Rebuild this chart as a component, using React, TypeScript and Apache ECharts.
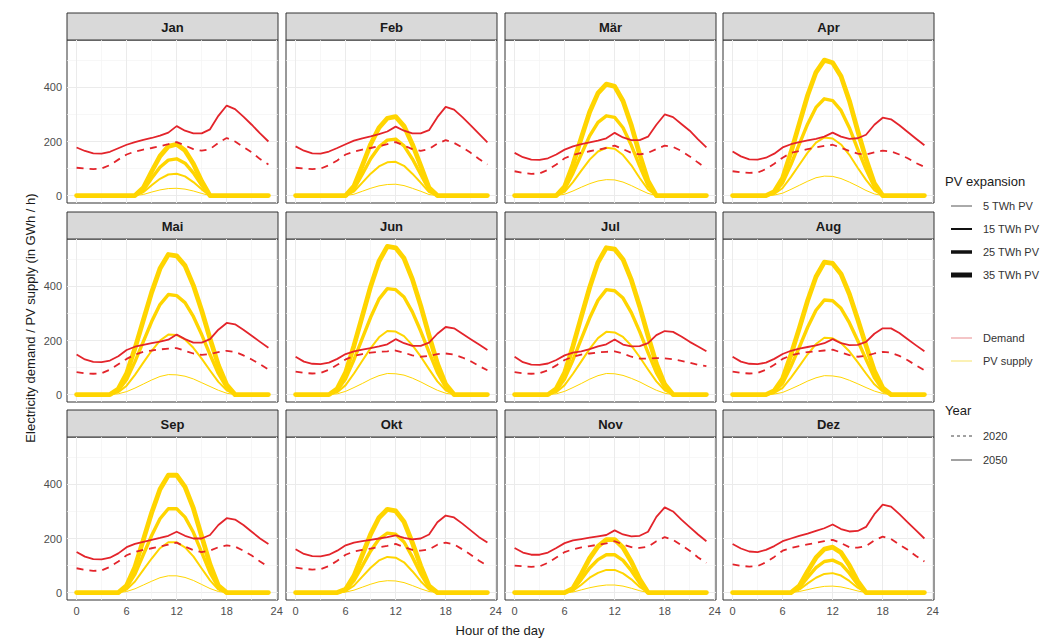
import React, { useEffect, useRef } from "react";
import * as echarts from "echarts";

// ---------------- data ----------------
const months = ["Jan", "Feb", "Mär", "Apr", "Mai", "Jun", "Jul", "Aug", "Sep", "Okt", "Nov", "Dez"];
const hours = [0, 1, 2, 3, 4, 5, 6, 7, 8, 9, 10, 11, 12, 13, 14, 15, 16, 17, 18, 19, 20, 21, 22, 23];
const xTicks = [0, 6, 12, 18, 24];
const xMinor = [3, 9, 15, 21];
const yTicks = [0, 200, 400];
const yMinor = [100, 300, 500];
const pvLevels = ["5 TWh PV", "15 TWh PV", "25 TWh PV", "35 TWh PV"];
const colourKeys = ["Demand", "PV supply"];
const yearKeys = ["2020", "2050"];

// demand 2050 (solid) / 2020 (dashed), GWh/h per hour
const janD50 = [178, 165, 156, 155, 162, 175, 188, 198, 206, 213, 222, 233, 257, 240, 230, 230, 245, 295, 333, 320, 292, 262, 230, 200];
const janD20 = [103, 100, 98, 100, 113, 133, 152, 163, 170, 176, 183, 190, 198, 185, 172, 166, 172, 195, 213, 200, 180, 160, 135, 115];
const febD50 = [182, 166, 156, 155, 163, 176, 190, 203, 212, 219, 227, 237, 255, 240, 230, 230, 242, 290, 328, 318, 290, 260, 228, 197];
const febD20 = [103, 100, 98, 100, 112, 130, 152, 163, 170, 176, 183, 190, 198, 185, 172, 165, 172, 192, 205, 195, 178, 158, 135, 115];
const marD50 = [158, 142, 133, 132, 138, 152, 170, 182, 190, 197, 203, 212, 232, 215, 205, 205, 218, 262, 300, 290, 265, 240, 208, 178];
const marD20 = [90, 84, 80, 82, 95, 115, 138, 150, 158, 164, 170, 176, 185, 172, 158, 152, 158, 172, 185, 180, 165, 145, 122, 100];
const aprD50 = [163, 145, 134, 133, 140, 155, 178, 190, 198, 204, 210, 218, 233, 218, 210, 212, 225, 262, 288, 282, 260, 235, 210, 186];
const aprD20 = [90, 86, 84, 85, 98, 118, 140, 158, 165, 172, 178, 184, 188, 177, 165, 155, 152, 160, 166, 163, 152, 138, 120, 106];
const maiD50 = [148, 130, 121, 120, 126, 142, 165, 177, 184, 190, 196, 203, 222, 205, 192, 192, 205, 240, 265, 260, 240, 218, 195, 173];
const maiD20 = [83, 79, 77, 79, 92, 112, 132, 148, 158, 163, 167, 170, 172, 162, 152, 147, 150, 157, 162, 158, 145, 130, 112, 93];
const junD50 = [140, 122, 114, 113, 118, 132, 150, 160, 166, 172, 178, 186, 205, 190, 180, 180, 192, 225, 250, 245, 225, 205, 185, 165];
const junD20 = [85, 80, 78, 80, 92, 110, 130, 143, 150, 155, 158, 160, 163, 155, 145, 140, 143, 150, 152, 148, 137, 123, 106, 90];
const julD50 = [140, 120, 111, 110, 115, 128, 145, 155, 160, 168, 178, 186, 204, 185, 178, 179, 190, 220, 235, 232, 215, 195, 178, 160];
const julD20 = [83, 79, 77, 79, 90, 108, 128, 140, 148, 152, 156, 158, 160, 152, 140, 133, 133, 135, 134, 131, 125, 118, 110, 105];
const augD50 = [140, 122, 114, 113, 118, 132, 150, 162, 170, 176, 182, 190, 205, 190, 183, 184, 195, 225, 245, 245, 228, 205, 182, 160];
const augD20 = [85, 80, 78, 80, 92, 110, 132, 145, 152, 157, 160, 163, 166, 156, 146, 140, 143, 152, 158, 155, 143, 127, 108, 90];
const sepD50 = [150, 133, 124, 123, 129, 145, 168, 180, 188, 195, 202, 210, 225, 210, 200, 200, 213, 250, 275, 270, 250, 225, 200, 180];
const sepD20 = [90, 84, 80, 82, 95, 115, 138, 150, 158, 164, 170, 177, 185, 170, 157, 150, 155, 168, 175, 170, 155, 137, 115, 95];
const oktD50 = [160, 143, 135, 134, 140, 155, 175, 185, 190, 195, 200, 205, 212, 202, 197, 200, 215, 260, 285, 278, 255, 230, 205, 185];
const oktD20 = [92, 88, 85, 87, 98, 118, 140, 152, 158, 163, 168, 173, 180, 168, 158, 155, 160, 177, 185, 178, 160, 140, 118, 100];
const novD50 = [165, 148, 140, 140, 148, 165, 183, 193, 198, 203, 208, 213, 230, 215, 208, 210, 225, 280, 315, 300, 270, 242, 215, 190];
const novD20 = [100, 97, 95, 97, 110, 130, 150, 160, 167, 172, 177, 182, 190, 178, 168, 165, 170, 190, 205, 195, 175, 155, 130, 110];
const dezD50 = [180, 163, 152, 150, 158, 172, 190, 200, 210, 218, 228, 238, 252, 235, 226, 228, 243, 290, 325, 318, 290, 260, 230, 200];
const dezD20 = [104, 99, 96, 98, 112, 132, 155, 165, 172, 178, 184, 190, 195, 183, 168, 166, 172, 193, 207, 198, 178, 158, 135, 115];

// PV supply per expansion level (5 / 15 / 25 / 35 TWh)
const jan5 = [0, 0, 0, 0, 0, 0, 0, 0, 4, 13, 21, 26, 27, 24, 17, 8, 0, 0, 0, 0, 0, 0, 0, 0];
const jan15 = [0, 0, 0, 0, 0, 0, 0, 0, 12, 38, 62, 78, 81, 71, 50, 23, 0, 0, 0, 0, 0, 0, 0, 0];
const jan25 = [0, 0, 0, 0, 0, 0, 0, 0, 20, 64, 105, 131, 136, 120, 84, 38, 0, 0, 0, 0, 0, 0, 0, 0];
const jan35 = [0, 0, 0, 0, 0, 0, 0, 0, 29, 89, 146, 182, 190, 167, 118, 53, 0, 0, 0, 0, 0, 0, 0, 0];
const feb5 = [0, 0, 0, 0, 0, 0, 0, 5, 16, 27, 36, 41, 42, 37, 27, 16, 4, 0, 0, 0, 0, 0, 0, 0];
const feb15 = [0, 0, 0, 0, 0, 0, 0, 15, 48, 81, 108, 123, 125, 110, 81, 48, 13, 0, 0, 0, 0, 0, 0, 0];
const feb25 = [0, 0, 0, 0, 0, 0, 0, 25, 79, 136, 180, 205, 209, 184, 136, 79, 21, 0, 0, 0, 0, 0, 0, 0];
const feb35 = [0, 0, 0, 0, 0, 0, 0, 35, 111, 190, 251, 286, 292, 257, 190, 111, 29, 0, 0, 0, 0, 0, 0, 0];
const mar5 = [0, 0, 0, 0, 0, 0, 5, 17, 31, 44, 54, 59, 58, 50, 37, 22, 8, 0, 0, 0, 0, 0, 0, 0];
const mar15 = [0, 0, 0, 0, 0, 0, 14, 50, 92, 133, 163, 177, 173, 150, 112, 65, 23, 0, 0, 0, 0, 0, 0, 0];
const mar25 = [0, 0, 0, 0, 0, 0, 24, 83, 153, 221, 271, 295, 289, 251, 186, 109, 38, 0, 0, 0, 0, 0, 0, 0];
const mar35 = [0, 0, 0, 0, 0, 0, 33, 115, 214, 309, 379, 412, 404, 350, 260, 152, 54, 0, 0, 0, 0, 0, 0, 0];
const apr5 = [0, 0, 0, 0, 0, 2, 9, 23, 38, 53, 66, 72, 71, 63, 50, 35, 19, 6, 0, 0, 0, 0, 0, 0];
const apr15 = [0, 0, 0, 0, 0, 6, 28, 69, 114, 159, 196, 215, 211, 189, 151, 103, 58, 19, 0, 0, 0, 0, 0, 0];
const apr25 = [0, 0, 0, 0, 0, 11, 47, 115, 190, 265, 326, 358, 351, 315, 251, 172, 97, 32, 0, 0, 0, 0, 0, 0];
const apr35 = [0, 0, 0, 0, 0, 15, 65, 160, 266, 371, 456, 501, 491, 441, 351, 240, 135, 45, 0, 0, 0, 0, 0, 0];
const mai5 = [0, 0, 0, 0, 0, 3, 11, 24, 39, 54, 67, 74, 73, 68, 58, 44, 30, 16, 5, 0, 0, 0, 0, 0];
const mai15 = [0, 0, 0, 0, 0, 9, 33, 73, 118, 162, 200, 222, 220, 204, 173, 133, 89, 47, 16, 0, 0, 0, 0, 0];
const mai25 = [0, 0, 0, 0, 0, 15, 56, 122, 196, 270, 333, 370, 366, 340, 289, 222, 148, 78, 26, 0, 0, 0, 0, 0];
const mai35 = [0, 0, 0, 0, 0, 21, 78, 171, 275, 378, 466, 518, 513, 477, 404, 311, 207, 109, 36, 0, 0, 0, 0, 0];
const jun5 = [0, 0, 0, 0, 0, 3, 12, 26, 41, 57, 70, 78, 77, 72, 61, 47, 31, 16, 5, 0, 0, 0, 0, 0];
const jun15 = [0, 0, 0, 0, 0, 9, 35, 78, 125, 172, 212, 235, 233, 216, 183, 141, 94, 49, 16, 0, 0, 0, 0, 0];
const jun25 = [0, 0, 0, 0, 0, 16, 59, 129, 208, 286, 353, 392, 388, 361, 306, 235, 157, 82, 27, 0, 0, 0, 0, 0];
const jun35 = [0, 0, 0, 0, 0, 22, 82, 181, 290, 400, 493, 548, 543, 504, 427, 329, 219, 115, 38, 0, 0, 0, 0, 0];
const jul5 = [0, 0, 0, 0, 0, 3, 12, 26, 41, 57, 70, 78, 77, 71, 60, 47, 31, 16, 5, 0, 0, 0, 0, 0];
const jul15 = [0, 0, 0, 0, 0, 9, 35, 77, 123, 169, 209, 232, 230, 213, 181, 139, 93, 49, 16, 0, 0, 0, 0, 0];
const jul25 = [0, 0, 0, 0, 0, 16, 58, 128, 206, 283, 349, 388, 384, 357, 303, 233, 155, 81, 27, 0, 0, 0, 0, 0];
const jul35 = [0, 0, 0, 0, 0, 22, 81, 179, 288, 396, 489, 543, 538, 500, 424, 326, 217, 114, 38, 0, 0, 0, 0, 0];
const aug5 = [0, 0, 0, 0, 0, 2, 8, 21, 35, 50, 62, 70, 69, 64, 53, 40, 26, 13, 4, 0, 0, 0, 0, 0];
const aug15 = [0, 0, 0, 0, 0, 6, 25, 63, 105, 149, 187, 210, 208, 191, 160, 120, 78, 38, 11, 0, 0, 0, 0, 0];
const aug25 = [0, 0, 0, 0, 0, 11, 42, 105, 175, 249, 312, 350, 347, 319, 266, 200, 130, 63, 18, 0, 0, 0, 0, 0];
const aug35 = [0, 0, 0, 0, 0, 15, 59, 147, 245, 348, 436, 490, 485, 446, 372, 279, 181, 88, 25, 0, 0, 0, 0, 0];
const sep5 = [0, 0, 0, 0, 0, 0, 4, 14, 28, 42, 55, 62, 62, 56, 45, 30, 15, 4, 0, 0, 0, 0, 0, 0];
const sep15 = [0, 0, 0, 0, 0, 0, 11, 41, 84, 126, 164, 186, 186, 167, 134, 89, 45, 11, 0, 0, 0, 0, 0, 0];
const sep25 = [0, 0, 0, 0, 0, 0, 19, 68, 140, 211, 273, 310, 310, 279, 223, 149, 74, 19, 0, 0, 0, 0, 0, 0];
const sep35 = [0, 0, 0, 0, 0, 0, 26, 95, 195, 295, 382, 434, 434, 391, 312, 208, 104, 26, 0, 0, 0, 0, 0, 0];
const okt5 = [0, 0, 0, 0, 0, 0, 2, 9, 20, 31, 40, 44, 43, 37, 26, 14, 4, 0, 0, 0, 0, 0, 0, 0];
const okt15 = [0, 0, 0, 0, 0, 0, 5, 26, 59, 92, 119, 132, 129, 112, 79, 42, 11, 0, 0, 0, 0, 0, 0, 0];
const okt25 = [0, 0, 0, 0, 0, 0, 9, 44, 99, 154, 198, 220, 216, 187, 132, 70, 18, 0, 0, 0, 0, 0, 0, 0];
const okt35 = [0, 0, 0, 0, 0, 0, 12, 62, 139, 216, 277, 308, 302, 262, 185, 99, 25, 0, 0, 0, 0, 0, 0, 0];
const nov5 = [0, 0, 0, 0, 0, 0, 0, 2, 10, 18, 24, 28, 28, 24, 16, 7, 0, 0, 0, 0, 0, 0, 0, 0];
const nov15 = [0, 0, 0, 0, 0, 0, 0, 7, 29, 55, 73, 84, 84, 71, 49, 21, 0, 0, 0, 0, 0, 0, 0, 0];
const nov25 = [0, 0, 0, 0, 0, 0, 0, 11, 49, 91, 122, 140, 140, 119, 81, 35, 0, 0, 0, 0, 0, 0, 0, 0];
const nov35 = [0, 0, 0, 0, 0, 0, 0, 16, 69, 127, 171, 196, 196, 167, 114, 49, 0, 0, 0, 0, 0, 0, 0, 0];
const dez5 = [0, 0, 0, 0, 0, 0, 0, 0, 4, 11, 18, 23, 24, 21, 14, 6, 0, 0, 0, 0, 0, 0, 0, 0];
const dez15 = [0, 0, 0, 0, 0, 0, 0, 0, 11, 34, 55, 69, 72, 63, 43, 18, 0, 0, 0, 0, 0, 0, 0, 0];
const dez25 = [0, 0, 0, 0, 0, 0, 0, 0, 18, 56, 92, 115, 120, 106, 72, 30, 0, 0, 0, 0, 0, 0, 0, 0];
const dez35 = [0, 0, 0, 0, 0, 0, 0, 0, 25, 79, 129, 161, 168, 148, 101, 42, 0, 0, 0, 0, 0, 0, 0, 0];

const demand2050 = [janD50, febD50, marD50, aprD50, maiD50, junD50, julD50, augD50, sepD50, oktD50, novD50, dezD50];
const demand2020 = [janD20, febD20, marD20, aprD20, maiD20, junD20, julD20, augD20, sepD20, oktD20, novD20, dezD20];
const pvSupply = [
  [jan5, jan15, jan25, jan35], [feb5, feb15, feb25, feb35], [mar5, mar15, mar25, mar35],
  [apr5, apr15, apr25, apr35], [mai5, mai15, mai25, mai35], [jun5, jun15, jun25, jun35],
  [jul5, jul15, jul25, jul35], [aug5, aug15, aug25, aug35], [sep5, sep15, sep25, sep35],
  [okt5, okt15, okt25, okt35], [nov5, nov15, nov25, nov35], [dez5, dez15, dez25, dez35],
];

// ---------------- styling / layout ----------------
const FONT = "'Liberation Sans', Arial, sans-serif";
const RED = "#e3242b";
const YELLOW = "#FFD500";
const PV_WIDTHS = [1, 2, 3.4, 4.8];
const LEGEND_WIDTHS = [1, 2, 3.5, 5];
const colLeft = [67, 286, 505, 723];
const rowTop = [40, 239, 437];
const PW = 211;
const PH = 163;
const SH = 27;

const X_MIN = -1.15;
const X_MAX = 24.15;
const Y_MIN = -27.4;
const Y_MAX = 575.4;

function buildOption() {
  const grid: any[] = [];
  const xAxis: any[] = [];
  const yAxis: any[] = [];
  const series: any[] = [];
  const graphic: any[] = [];

  const major = { color: "#ebebeb", width: 1, type: "solid" };
  const minor = { color: "#f3f3f3", width: 0.7, type: "solid" };
  const gridLines = [
    ...yTicks.map((v) => ({ yAxis: v, lineStyle: major })),
    ...yMinor.map((v) => ({ yAxis: v, lineStyle: minor })),
    ...xTicks.map((v) => ({ xAxis: v, lineStyle: major })),
    ...xMinor.map((v) => ({ xAxis: v, lineStyle: minor })),
  ];

  months.forEach((m, i) => {
    const col = i % 4;
    const row = Math.floor(i / 4);
    const left = colLeft[col];
    const top = rowTop[row];
    grid.push({
      left, top, width: PW, height: PH,
      show: true, borderColor: "#333333", borderWidth: 1, backgroundColor: "#ffffff",
      containLabel: false, outerBoundsMode: "none",
    });
    const bottom = row === 2;
    const first = col === 0;
    xAxis.push({
      type: "value", gridIndex: i, min: X_MIN, max: X_MAX,
      axisLine: { show: false },
      splitLine: { show: false },
      axisTick: { show: bottom, length: 3, lineStyle: { color: "#333333", width: 1 }, customValues: xTicks },
      axisLabel: { show: bottom, customValues: xTicks, color: "#4d4d4d", fontSize: 11, fontFamily: FONT, margin: 5 },
    });
    yAxis.push({
      type: "value", gridIndex: i, min: Y_MIN, max: Y_MAX,
      axisLine: { show: false },
      splitLine: { show: false },
      axisTick: { show: first, length: 3, lineStyle: { color: "#333333", width: 1 }, customValues: yTicks },
      axisLabel: { show: first, customValues: yTicks, color: "#4d4d4d", fontSize: 11, fontFamily: FONT, margin: 5 },
    });

    const pv = pvSupply[i];
    pv.forEach((arr, k) => {
      const s: any = {
        type: "line", xAxisIndex: i, yAxisIndex: i, name: pvLevels[k],
        data: hours.map((h, j) => [h, arr[j]]),
        showSymbol: false, symbol: "none", silent: true, z: 2,
        lineStyle: { color: YELLOW, width: PV_WIDTHS[k], cap: "round", join: "round" },
      };
      if (k === 0) {
        s.markLine = {
          silent: true, z: 1, symbol: ["none", "none"], label: { show: false },
          emphasis: { disabled: true }, animation: false, data: gridLines,
        };
      }
      series.push(s);
    });
    series.push({
      type: "line", xAxisIndex: i, yAxisIndex: i, name: "Demand 2020",
      data: hours.map((h, j) => [h, demand2020[i][j]]),
      showSymbol: false, symbol: "none", silent: true, z: 3,
      lineStyle: { color: RED, width: 1.8, type: [7, 6] },
    });
    series.push({
      type: "line", xAxisIndex: i, yAxisIndex: i, name: "Demand 2050",
      data: hours.map((h, j) => [h, demand2050[i][j]]),
      showSymbol: false, symbol: "none", silent: true, z: 3,
      lineStyle: { color: RED, width: 1.8, join: "round" },
    });

    // strip
    graphic.push({
      type: "rect", shape: { x: left, y: top - SH, width: PW, height: SH },
      style: { fill: "#d9d9d9", stroke: "#333333", lineWidth: 1 }, silent: true,
    });
    graphic.push({
      type: "text", x: left + PW / 2, y: top - SH / 2 + 0.5,
      style: { text: m, textAlign: "center", textVerticalAlign: "middle", font: `bold 13px ${FONT}`, fill: "#1a1a1a" },
      silent: true,
    });
  });

  // axis titles
  graphic.push({
    type: "text", x: 500, y: 630,
    style: { text: "Hour of the day", textAlign: "center", textVerticalAlign: "middle", font: `13px ${FONT}`, fill: "#1a1a1a" },
  });
  graphic.push({
    type: "text", x: 30, y: 318, rotation: Math.PI / 2,
    style: { text: "Electricity demand / PV supply (in GWh / h)", textAlign: "center", textVerticalAlign: "middle", font: `13px ${FONT}`, fill: "#1a1a1a" },
  });

  // legends
  const LX = 945;
  const keyX1 = 951;
  const keyX2 = 972;
  const textX = 983;
  const legendText = (t: string, y: number) => ({
    type: "text", x: textX, y,
    style: { text: t, textAlign: "left", textVerticalAlign: "middle", font: `11px ${FONT}`, fill: "#333333" },
  });
  graphic.push({
    type: "text", x: LX, y: 181,
    style: { text: "PV expansion", textAlign: "left", textVerticalAlign: "middle", font: `13px ${FONT}`, fill: "#1a1a1a" },
  });
  pvLevels.forEach((t, k) => {
    const y = 206 + k * 23;
    graphic.push({
      type: "line", shape: { x1: keyX1, y1: y, x2: keyX2, y2: y },
      style: { stroke: k === 0 ? "#555555" : "#111111", lineWidth: LEGEND_WIDTHS[k] },
    });
    graphic.push(legendText(t, y));
  });
  colourKeys.forEach((t, k) => {
    const y = 338 + k * 23;
    graphic.push({
      type: "line", shape: { x1: keyX1, y1: y, x2: keyX2, y2: y },
      style: { stroke: k === 0 ? "#e98b8e" : "#f7e36a", lineWidth: 1 },
    });
    graphic.push(legendText(t, y));
  });
  graphic.push({
    type: "text", x: LX, y: 410,
    style: { text: "Year", textAlign: "left", textVerticalAlign: "middle", font: `13px ${FONT}`, fill: "#1a1a1a" },
  });
  yearKeys.forEach((t, k) => {
    const y = 436 + k * 24;
    graphic.push({
      type: "line", shape: { x1: keyX1, y1: y, x2: keyX2, y2: y },
      style: { stroke: "#444444", lineWidth: 1, lineDash: k === 0 ? [3, 3] : null },
    });
    graphic.push(legendText(t, y));
  });

  return {
    animation: false,
    backgroundColor: "#ffffff",
    grid, xAxis, yAxis, series, graphic,
  };
}

export default function App() {
  const ref = useRef<HTMLDivElement>(null);
  useEffect(() => {
    if (!ref.current) return;
    const chart = echarts.init(ref.current, undefined, { renderer: "svg" });
    chart.setOption(buildOption() as any);
    return () => chart.dispose();
  }, []);
  return (
    <div
      ref={ref}
      style={{ position: "fixed", left: 0, top: 0, width: 1043, height: 638, background: "#fff" }}
    />
  );
}
